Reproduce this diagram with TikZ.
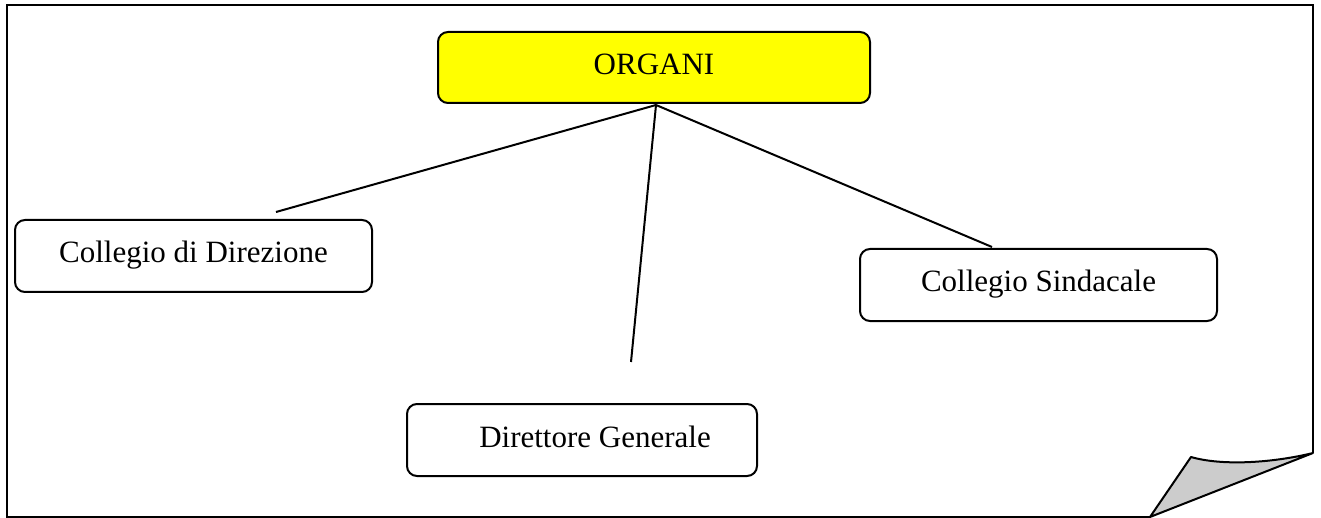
\documentclass[tikz,border=0pt]{standalone}
\usepackage{fontspec}
\setmainfont{Liberation Serif}
\definecolor{orgyellow}{RGB}{255,255,0}
\definecolor{foldgray}{RGB}{204,204,204}
\tikzset{
  box/.style={draw=black, line width=2pt, rounded corners=10pt, fill=white,
    inner sep=0pt, text height=21pt, text depth=7pt,
    font=\fontsize{31}{36}\selectfont},
  lbl/.style={inner sep=0pt, text height=21pt, text depth=7pt,
    font=\fontsize{31}{36}\selectfont},
  conn/.style={draw=black, line width=2pt},
  frame/.style={draw=black, line width=2.5pt, line join=miter},
}
\begin{document}
\begin{tikzpicture}[x=1pt,y=-1pt]
\useasboundingbox (0,0) rectangle (1321,518);
% page frame with folded corner
\draw[frame] (1150,517) -- (7,517) -- (7,5) -- (1313,5) -- (1313,453);
\filldraw[frame, fill=foldgray, line width=2pt, line join=round]
  (1150,517) -- (1191,457) .. controls (1222,466) and (1272,463) .. (1313,453) -- cycle;
% nodes
\node[box, fill=orgyellow, minimum width=432pt, minimum height=71pt] (org) at (654,67.5) {ORGANI};
\node[box, minimum width=357pt, minimum height=72pt] (cd) at (193.5,256) {Collegio di Direzione};
\node[box, minimum width=357pt, minimum height=72pt] (cs) at (1038.5,285) {Collegio Sindacale};
\node[box, minimum width=350pt, minimum height=72pt] (dg) at (582,440) {};
\node[lbl] (dgt) at ([xshift=13pt]dg.center) {Direttore Generale};
% connectors
\coordinate (hub) at (656,105);
\coordinate (ecd) at (276,212);
\coordinate (edg) at (631,362);
\coordinate (ecs) at (992,247);
\draw[conn] (hub) -- (ecd);
\draw[conn] (hub) -- (edg);
\draw[conn] (hub) -- (ecs);
\end{tikzpicture}
\end{document}
